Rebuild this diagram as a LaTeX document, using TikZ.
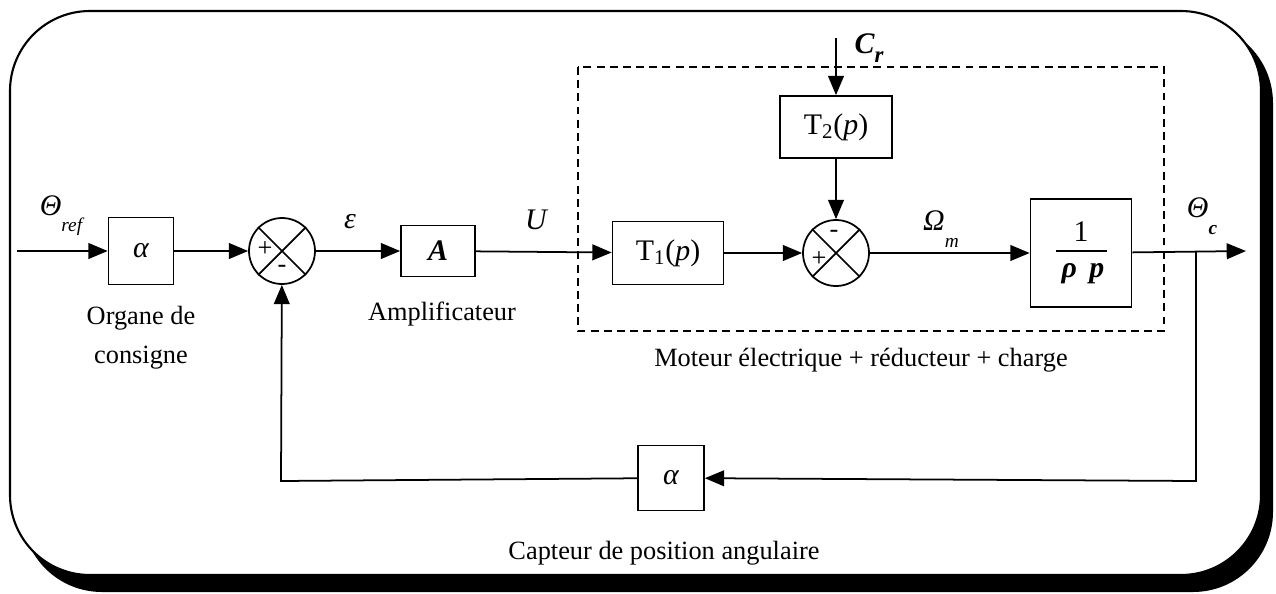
\documentclass[tikz,border=0pt]{standalone}
\usepackage{fontspec}
\setmainfont{Liberation Serif}
\usetikzlibrary{arrows.meta,shapes.geometric}
\begin{document}
\begin{tikzpicture}[x=0.02cm,y=-0.02cm,
  font=\fontsize{15}{18}\selectfont,
  >={Triangle[length=11pt,width=9pt]},
  blk/.style={draw,line width=1pt,inner sep=0pt,fill=white,font=\fontsize{17}{20}\selectfont},
  sumj/.style={draw,circle,line width=1pt,minimum size=1.32cm,inner sep=0pt},
  conn/.style={line width=1pt},
  sgn/.style={font=\fontsize{15}{15}\selectfont,inner sep=0pt},
  lbl/.style={inner sep=0pt,font=\fontsize{17}{17}\selectfont\itshape}]
\useasboundingbox (0,0) rectangle (1276,593);
% frame with shadow
\fill[black,rounded corners=1.6cm] (22,23) rectangle (1273,592);
\draw[line width=1.2pt,fill=white,rounded corners=1.6cm] (10,11) rectangle (1261,575);
% dashed block
\draw[line width=1.1pt,dash pattern=on 4.5pt off 3pt] (578,67) rectangle (1164,331);
% blocks
\node[blk,minimum width=1.3cm,minimum height=1.34cm] (a1) at (141,251) {\itshape α};
\node[sumj] (s1) at (282,251) {};
\node[blk,minimum width=1.48cm,minimum height=1.02cm] (A) at (438,251) {\bfseries\itshape A};
\node[blk,minimum width=2.22cm,minimum height=1.26cm] (T1) at (668,253) {T\textsubscript{1}(\textit{p})};
\node[sumj] (s2) at (836,253) {};
\node[blk,minimum width=2.24cm,minimum height=1.24cm] (T2) at (836,127) {T\textsubscript{2}(\textit{p})};
\node[blk,minimum width=2.02cm,minimum height=2.16cm] (I) at (1081,253) {};
\node[inner sep=0pt,font=\fontsize{17}{20}\selectfont] (Inum) at (1081,232) {1};
\draw[line width=1pt] (1056,251) -- (1107,251);
\node[inner sep=0pt,font=\fontsize{17}{20}\selectfont\bfseries\itshape] (Iden) at (1083,274) {ρ\, p};
\node[blk,minimum width=1.32cm,minimum height=1.3cm] (a2) at (671,478) {\itshape α};
% crosses in summing junctions
\draw[conn] (s1.north west) -- (s1.south east) (s1.north east) -- (s1.south west);
\draw[conn] (s2.north west) -- (s2.south east) (s2.north east) -- (s2.south west);
\node[sgn] (s1p) at (265,249) {+};
\node[sgn] (s1m) at (282,269) {-};
\node[sgn] (s2m) at (834,234) {-};
\node[sgn] (s2p) at (819,259) {+};
% coordinates
\coordinate (in) at (17,251);
\coordinate (cr) at (836,38);
\coordinate (out) at (1246,251);
\coordinate (br) at (1196,251);
\coordinate (brd) at (1196,481);
\coordinate (fl) at (281,481);
% connectors
\draw[conn,->] (in) -- (a1);
\draw[conn,->] (a1) -- (s1);
\draw[conn,->] (s1) -- (A);
\draw[conn,->] (A) -- (T1);
\draw[conn,->] (T1) -- (s2);
\draw[conn,->] (cr) -- (T2);
\draw[conn,->] (T2) -- (s2);
\draw[conn,->] (s2) -- (I);
\draw[conn,->] (I) -- (out);
\draw[conn,->] (br) -- (brd) -- (a2);
\draw[conn,->] (a2) -- (fl) -- (s1);
% labels
\node[lbl] (lref) at (61,216) {Θ\raisebox{-9pt}{\fontsize{11}{11}\selectfont ref}};
\node[lbl] (leps) at (350,222) {ε};
\node[lbl] (lU) at (536,220) {U};
\node[lbl] (lCr) at (869,48) {\bfseries C\raisebox{-5pt}{\fontsize{13}{13}\selectfont r}};
\node[lbl] (lOm) at (941,229) {Ω\raisebox{-10pt}{\fontsize{11}{11}\selectfont m}};
\node[lbl] (lThc) at (1202,216) {Θ\raisebox{-10pt}{\fontsize{11}{11}\selectfont\bfseries c}};
\node[align=center,inner sep=0pt] (t1) at (141,338) {Organe de\\[4pt]consigne};
\node[inner sep=0pt] (t2) at (442,314) {Amplificateur};
\node[inner sep=0pt] (t3) at (861,360) {Moteur électrique + réducteur + charge};
\node[inner sep=0pt] (t4) at (664,553) {Capteur de position angulaire};
\end{tikzpicture}
\end{document}
